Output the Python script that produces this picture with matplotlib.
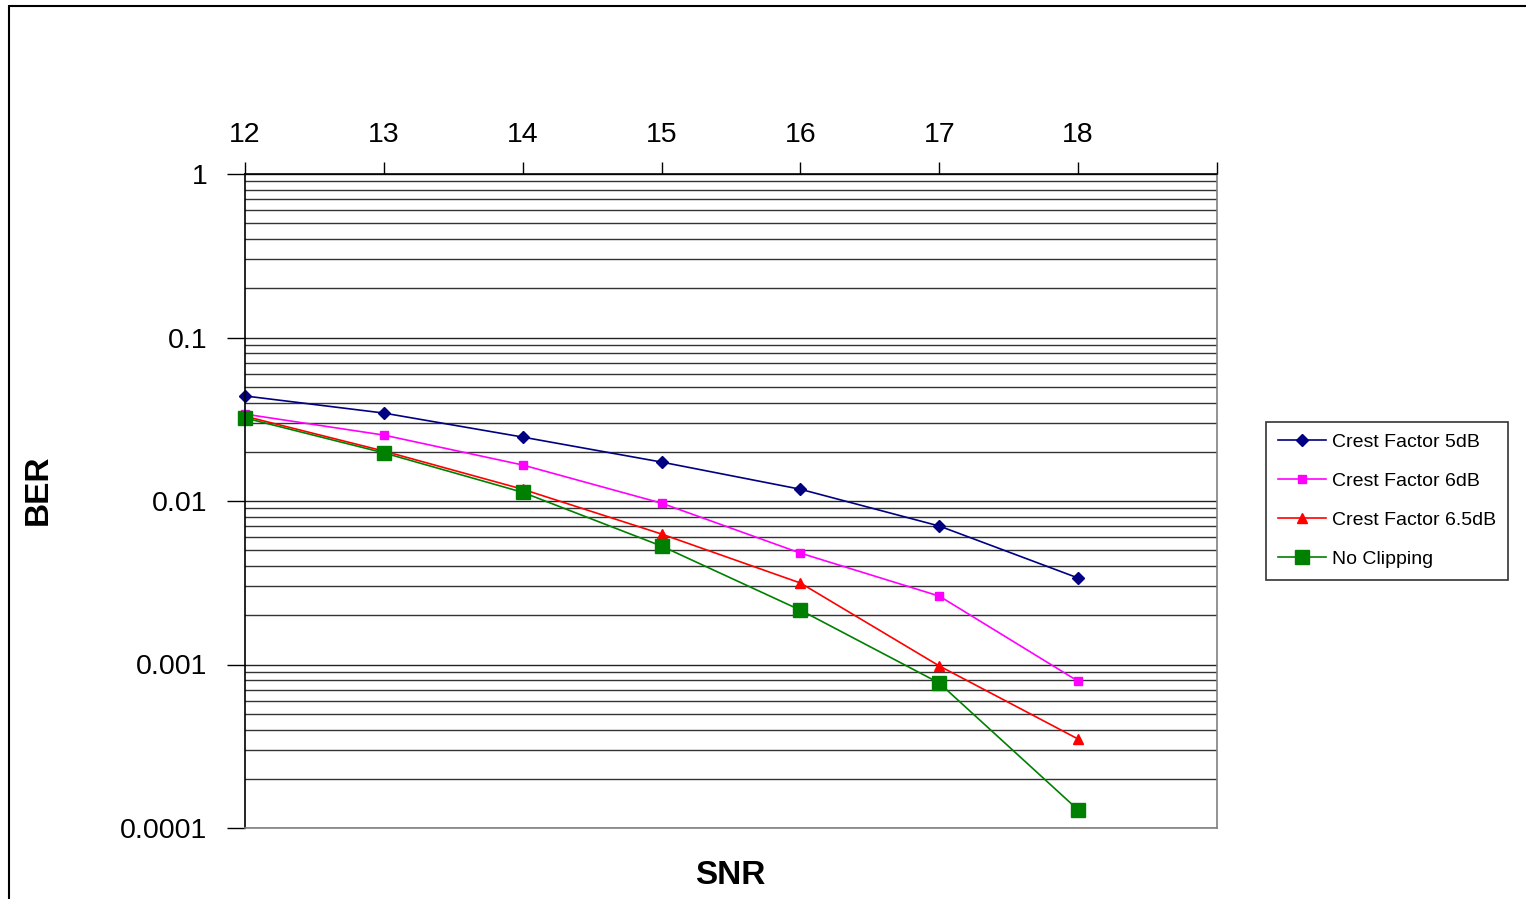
import matplotlib
matplotlib.use("Agg")
import matplotlib.pyplot as plt
from matplotlib.patches import Rectangle
from matplotlib.ticker import LogLocator, FixedLocator, NullFormatter, FixedFormatter

snr = [12, 13, 14, 15, 16, 17, 18]
cf5 = [0.0439, 0.0345, 0.0246, 0.0173, 0.0118, 0.00703, 0.00338]
cf6 = [0.0340, 0.0253, 0.0166, 0.0097, 0.0048, 0.00262, 0.00079]
cf65 = [0.0330, 0.0202, 0.0118, 0.00628, 0.00315, 0.00098, 0.00035]
noclip = [0.0322, 0.0197, 0.0113, 0.0053, 0.00215, 0.00077, 0.000129]
series_names = ["Crest Factor 5dB", "Crest Factor 6dB", "Crest Factor 6.5dB", "No Clipping"]
ytick_vals = [1, 0.1, 0.01, 0.001, 0.0001]
ytick_labels = ["1", "0.1", "0.01", "0.001", "0.0001"]

plt.rcParams['font.family'] = ['Liberation Sans', 'DejaVu Sans']

W, H = 1526, 899
fig = plt.figure(figsize=(W / 100, H / 100), dpi=100)
ax = fig.add_axes([245 / W, 1 - 828 / H, (1217 - 245) / W, (828 - 174) / H])

# outer frame
fig.patches.append(Rectangle((9 / W, -0.1), 1.2, 1 - 6 / H + 0.1, transform=fig.transFigure,
                             fill=False, edgecolor='black', lw=1.5))

ax.set_yscale('log')
ax.set_xlim(12, 19)
ax.set_ylim(1e-4, 1)

# gridlines
ax.yaxis.set_major_locator(FixedLocator(ytick_vals))
ax.yaxis.set_major_formatter(FixedFormatter(ytick_labels))
ax.yaxis.set_minor_locator(LogLocator(base=10, subs=range(2, 10)))
ax.yaxis.set_minor_formatter(NullFormatter())
ax.grid(True, which='major', axis='y', color='#222222', lw=1.0)
ax.grid(True, which='minor', axis='y', color='#333333', lw=1.0)
ax.tick_params(axis='y', which='minor', length=0)
ax.tick_params(axis='y', which='major', direction='out', length=13, width=1, pad=14,
               labelsize=20.5, colors='black')

ax.xaxis.tick_top()
ax.set_xticks(list(range(12, 20)))
ax.set_xticklabels([str(v) for v in snr] + [""])
ax.tick_params(axis='x', which='major', direction='out', length=9, width=1, pad=10,
               labelsize=20.5)

ax.spines['left'].set_color('black')
ax.spines['top'].set_color('black')
ax.spines['right'].set_color('#808080')
ax.spines['bottom'].set_color('#808080')
for s in ax.spines.values():
    s.set_linewidth(1.2)

h1, = ax.plot(snr, cf5, color='#000080', marker='D', ms=6.5, lw=1.2, label=series_names[0], clip_on=False)
h2, = ax.plot(snr, cf6, color='#FF00FF', marker='s', ms=6, lw=1.2, label=series_names[1], clip_on=False)
h3, = ax.plot(snr, cf65, color='#FF0000', marker='^', ms=7.5, lw=1.2, label=series_names[2], clip_on=False)
h4, = ax.plot(snr, noclip, color='#008000', marker='s', ms=10.5, lw=1.2, label=series_names[3], clip_on=False)

fig.text(730 / W, 1 - 875 / H, "SNR", fontsize=24, fontweight='bold', ha='center', va='center')
fig.text(38 / W, 1 - 490 / H, "BER", fontsize=24, fontweight='bold', ha='center', va='center',
         rotation=90)

leg = fig.legend(handles=[h1, h2, h3, h4], loc='upper left',
                 bbox_to_anchor=(1266 / W, 1 - 422 / H), bbox_transform=fig.transFigure,
                 borderaxespad=0, frameon=True, fancybox=False, fontsize=14,
                 handlelength=2.5, handletextpad=0.3, labelspacing=1.1, borderpad=0.6)
leg.get_frame().set_edgecolor('black')
leg.get_frame().set_linewidth(1.2)

fig.savefig("out.png", dpi=100)
